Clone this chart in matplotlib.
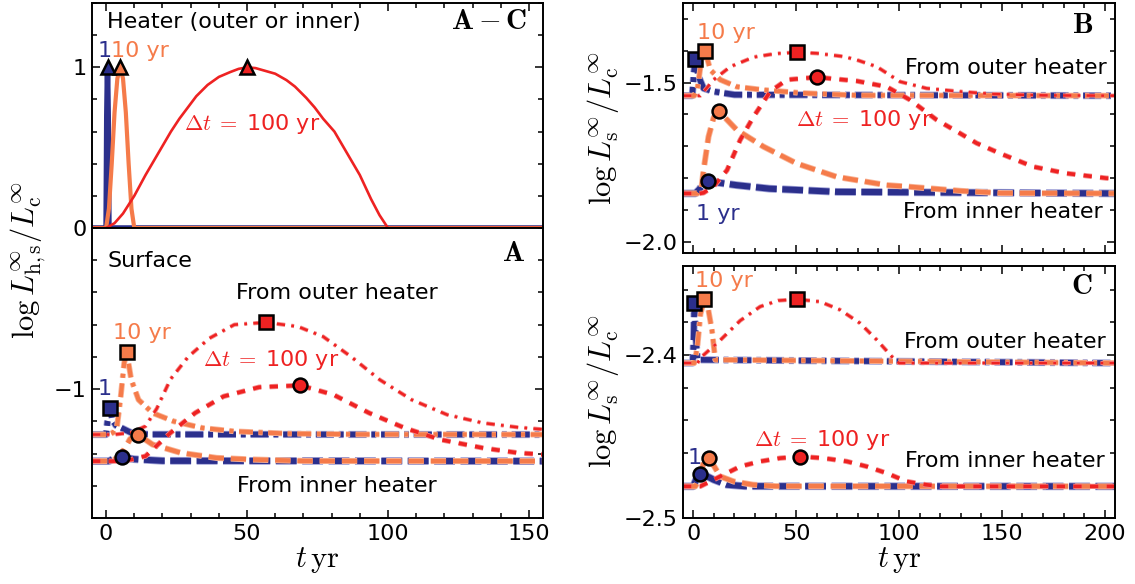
import matplotlib
matplotlib.use('Agg')
import matplotlib.pyplot as plt
import matplotlib.patheffects as pe
from matplotlib.ticker import MultipleLocator, FixedLocator

plt.rcParams['mathtext.fontset'] = 'cm'
plt.rcParams['font.family'] = 'DejaVu Sans'
plt.rcParams['lines.scale_dashes'] = False

NAVY = '#2b2f8c'
ORANGE = '#f57b4a'
RED = '#ee2222'

# ---- panel A, heater luminosity (linear, upper part) ----
heat_t1 = [-5, 0, 0.25, 0.5, 0.75, 1, 155]
heat_v1 = [0, 0, 0.7, 1, 0.7, 0, 0]
heat_t10 = [-5, 0, 1, 2, 3, 4, 5, 6, 7, 8, 9, 10, 155]
heat_v10 = [0, 0, 0.12, 0.4, 0.72, 0.93, 1, 0.93, 0.72, 0.4, 0.12, 0, 0]
heat_t100 = [-5, 0, 3, 6, 10, 14, 19, 23, 26, 29, 32, 36, 40, 44, 47, 50, 53, 56, 60, 64, 67, 71, 74,
             77, 81, 86, 90, 94, 97, 100, 155]
heat_v100 = [0, 0, 0.03, 0.09, 0.2, 0.33, 0.48, 0.6, 0.68, 0.75, 0.82, 0.89, 0.94, 0.97, 0.99, 1, 0.995,
             0.98, 0.96, 0.92, 0.88, 0.81, 0.75, 0.68, 0.6, 0.45, 0.33, 0.18, 0.08, 0, 0]

# ---- panel A, surface (log) ----
a_out_t1 = [-5, 0, 0.5, 1.5, 2.2, 3.5, 5.8, 9.3, 15, 155]
a_out_v1 = [-1.282, -1.282, -1.2, -1.118, -1.19, -1.225, -1.244, -1.274, -1.281, -1.282]
a_out_t10 = [-5, 1, 2.5, 3.9, 5.2, 6.4, 7.3, 8.9, 11.5, 16.5, 24, 34.1, 45.5, 64, 89.5, 155]
a_out_v10 = [-1.282, -1.282, -1.27, -1.23, -1.045, -0.84, -0.767, -0.94, -1.066, -1.148, -1.2,
             -1.241, -1.262, -1.276, -1.281, -1.282]
a_out_t100 = [-5, 3, 9, 14, 18, 22.8, 29.1, 36.6, 45.5, 56.8, 68.1, 77, 87, 97.1, 108.4, 121, 133.6, 146, 155]
a_out_v100 = [-1.282, -1.282, -1.27, -1.23, -1.12, -0.94, -0.80, -0.685, -0.60, -0.586, -0.612,
              -0.674, -0.80, -0.942, -1.066, -1.159, -1.21, -1.237, -1.25]

a_in_t1 = [-5, 1, 3, 5.5, 10, 20, 155]
a_in_v1 = [-1.447, -1.447, -1.43, -1.423, -1.435, -1.445, -1.447]
a_in_t10 = [-5, 2, 3.9, 6.4, 8.5, 11.2, 16.5, 26.6, 39.2, 51.8, 70.7, 155]
a_in_v10 = [-1.447, -1.447, -1.427, -1.375, -1.31, -1.282, -1.344, -1.396, -1.427, -1.437, -1.446, -1.447]
a_in_t100 = [-5, 5, 9, 14, 22.8, 31.6, 41.7, 54.3, 68.9, 80.7, 93.3, 105.9, 118.5, 133.6, 146.2, 155]
a_in_v100 = [-1.447, -1.447, -1.437, -1.416, -1.272, -1.148, -1.045, -0.988, -0.977, -1.035, -1.148,
             -1.241, -1.313, -1.365, -1.396, -1.406]

a_sq_t = [1.5, 7.3, 56.8]
a_sq_v = [-1.118, -0.767, -0.586]
a_ci_t = [5.5, 11.2, 68.9]
a_ci_v = [-1.423, -1.282, -0.977]
heat_pk_t = [0.5, 5, 50]

# ---- panel B ----
b_out_t1 = [-5, -0.5, 0.3, 1, 2.6, 5, 9.9, 20, 205]
b_out_v1 = [-1.541, -1.541, -1.47, -1.426, -1.481, -1.518, -1.528, -1.538, -1.541]
b_out_t10 = [-5, 0.5, 2, 3.5, 5.8, 8.3, 13.1, 21.2, 34.1, 53.4, 80, 205]
b_out_v10 = [-1.541, -1.541, -1.52, -1.45, -1.402, -1.46, -1.491, -1.513, -1.523, -1.533, -1.54, -1.541]
b_out_t100 = [-5, 3.4, 9.9, 18, 29.3, 40, 50.3, 60, 73, 79.6, 89.2, 100.5, 113.4, 129.6, 145.8, 170, 205]
b_out_v100 = [-1.541, -1.541, -1.491, -1.45, -1.42, -1.409, -1.405, -1.408, -1.418, -1.429, -1.45,
              -1.497, -1.518, -1.528, -1.536, -1.540, -1.541]

b_in_t1 = [-5, 1, 3, 5, 7.1, 12, 21, 37, 70, 205]
b_in_v1 = [-1.848, -1.848, -1.835, -1.815, -1.808, -1.814, -1.822, -1.833, -1.843, -1.848]
b_in_t10 = [-5, 2, 4, 5, 7.4, 9.9, 12.3, 21.2, 34.1, 50.3, 69.8, 94, 105, 130, 150, 205]
b_in_v10 = [-1.848, -1.848, -1.83, -1.775, -1.67, -1.61, -1.589, -1.649, -1.701, -1.754, -1.796,
            -1.822, -1.827, -1.84, -1.847, -1.848]
b_in_t100 = [-5, 3, 5, 10, 16.4, 22.8, 29.3, 37.4, 45.5, 60, 79.5, 94, 105.3, 118.3, 129.6, 137.7,
             149, 165.2, 181.4, 200.8, 205]
b_in_v100 = [-1.848, -1.848, -1.846, -1.825, -1.775, -1.68, -1.607, -1.528, -1.491, -1.483, -1.495,
             -1.513, -1.554, -1.617, -1.659, -1.69, -1.722, -1.764, -1.785, -1.8, -1.801]

b_sq_t = [1, 5.8, 50.3]
b_sq_v = [-1.426, -1.402, -1.405]
b_ci_t = [7.1, 12.3, 60]
b_ci_v = [-1.808, -1.589, -1.483]

# ---- panel C ----
c_out_t1 = [-5, -0.3, 0.2, 0.5, 1, 2, 205]
c_out_v1 = [-2.405, -2.405, -2.39, -2.368, -2.385, -2.403, -2.405]
c_out_t10 = [-5, 0.5, 2, 3.5, 5.3, 7, 9.1, 10.7, 205]
c_out_v10 = [-2.405, -2.405, -2.395, -2.375, -2.366, -2.37, -2.385, -2.403, -2.405]
c_out_t100 = [-5, 2, 4.2, 13.1, 22.8, 32.5, 41.3, 50.6, 61.7, 71.4, 81.1, 89.2, 97.2, 100, 205]
c_out_v100 = [-2.405, -2.405, -2.401, -2.391, -2.379, -2.3704, -2.3667, -2.3659, -2.3674, -2.3724,
              -2.3806, -2.3908, -2.402, -2.405, -2.405]

c_in_t1 = [-5, 0, 1.5, 3.4, 6, 9.9, 16.3, 25, 205]
c_in_v1 = [-2.4806, -2.4806, -2.476, -2.4729, -2.474, -2.4765, -2.4796, -2.4805, -2.4806]
c_in_t10 = [-5, 1, 3, 5, 7.4, 10, 13.1, 19.6, 29, 40, 205]
c_in_v10 = [-2.4806, -2.4806, -2.476, -2.466, -2.4633, -2.468, -2.4745, -2.4776, -2.4796, -2.4805, -2.4806]
c_in_t100 = [-5, 3.4, 13.1, 22.8, 32.5, 42.2, 51.9, 63.3, 74.6, 84.3, 94, 103.7, 113, 120, 205]
c_in_v100 = [-2.4806, -2.4806, -2.4745, -2.4684, -2.4653, -2.4633, -2.4623, -2.4633, -2.4653, -2.4684,
             -2.4725, -2.4776, -2.4796, -2.4806, -2.4806]

c_sq_t = [0.5, 5.3, 50.6]
c_sq_v = [-2.3683, -2.3659, -2.3659]
c_ci_t = [3.4, 7.4, 51.9]
c_ci_v = [-2.4729, -2.4633, -2.4623]

colors = [NAVY, ORANGE, RED]
halo = ['#9d9fd6', '#f9b497', '#f58a8a']
w_in = [4.4, 3.2, 2.6]
w_out = [4.0, 3.0, 1.8]
dash_in = [(15, 4), (11, 5), (6, 6)]
dash_out = [(13, 3.5, 3.5, 3.5), (10, 4, 3, 4), (6, 4.5, 2, 4.5)]

fig = plt.figure(figsize=(11.35, 5.84), dpi=100)
W, H = 1135., 584.
axA1 = fig.add_axes([92/W, 1-228/H, 451/W, 225/H])
axA2 = fig.add_axes([92/W, 1-518/H, 451/W, 290/H])
axB = fig.add_axes([683/W, 1-253/H, 432/W, 250/H])
axC = fig.add_axes([683/W, 1-518/H, 432/W, 252/H])


def style(ax, top=True, bottom=True):
    ax.tick_params(which='both', direction='in', top=top, bottom=bottom, right=True, left=True,
                   labelsize=16, pad=4)
    ax.tick_params(which='major', length=6, width=1.1)
    ax.tick_params(which='minor', length=3.5, width=1.1)
    for s in ax.spines.values():
        s.set_linewidth(1.4)


def surface(ax, outs, ins, sq_t, sq_v, ci_t, ci_v):
    for i in range(3):
        ax.plot(outs[i][0], outs[i][1], color=colors[i], lw=w_out[i], dashes=dash_out[i],
                path_effects=[pe.Stroke(linewidth=w_out[i] + 1.2, foreground=halo[i]), pe.Normal()])
    for i in range(3):
        ax.plot(ins[i][0], ins[i][1], color=colors[i], lw=w_in[i], dashes=dash_in[i],
                path_effects=[pe.Stroke(linewidth=w_in[i] + 1.2, foreground=halo[i]), pe.Normal()])
    for i in range(3):
        ax.plot(sq_t[i], sq_v[i], 's', ms=9.5, mfc=colors[i], mec='k', mew=1.8, zorder=5)
        ax.plot(ci_t[i], ci_v[i], 'o', ms=10, mfc=colors[i], mec='k', mew=1.8, zorder=5)


def dt_label(ax, x, y):
    ax.text(x, y, r'$\Delta t\;=\;$100 yr', color=RED, fontsize=16, va='center', ha='center')


# heater part
for i, (t, v) in enumerate([(heat_t1, heat_v1), (heat_t10, heat_v10), (heat_t100, heat_v100)]):
    axA1.plot(t, v, color=colors[i], lw=[4.0, 3.0, 1.9][i], solid_joinstyle='round')
for i in range(3):
    axA1.plot(heat_pk_t[i], 1, '^', ms=10, mfc=colors[i], mec='k', mew=1.8, zorder=5)
axA1.set_xlim(-5, 155)
axA1.set_ylim(0, 1.4)
axA1.set_yticks([0, 1])
axA1.set_yticklabels(['0', '1'])
axA1.yaxis.set_minor_locator(MultipleLocator(0.2))
axA1.xaxis.set_major_locator(MultipleLocator(50))
axA1.xaxis.set_minor_locator(MultipleLocator(10))
axA1.set_xticklabels([])
style(axA1, bottom=False)
axA1.text(0.4, 1.28, 'Heater (outer or inner)', fontsize=16, va='center', ha='left')
axA1.text(149.5, 1.29, r'$\mathbf{A-C}$', fontsize=21, va='center', ha='right')
axA1.text(-0.4, 1.1, '1', color=NAVY, fontsize=16, va='center', ha='center')
axA1.text(1.9, 1.1, '10 yr', color=ORANGE, fontsize=16, va='center', ha='left')
dt_label(axA1, 51.8, 0.65)

# surface part of A
surface(axA2,
        [(a_out_t1, a_out_v1), (a_out_t10, a_out_v10), (a_out_t100, a_out_v100)],
        [(a_in_t1, a_in_v1), (a_in_t10, a_in_v10), (a_in_t100, a_in_v100)],
        a_sq_t, a_sq_v, a_ci_t, a_ci_v)
axA2.set_xlim(-5, 155)
axA2.set_ylim(-1.8, 0)
axA2.yaxis.set_major_locator(FixedLocator([-1]))
axA2.yaxis.set_minor_locator(MultipleLocator(0.2))
axA2.xaxis.set_major_locator(MultipleLocator(50))
axA2.xaxis.set_minor_locator(MultipleLocator(10))
style(axA2, top=False)
axA2.text(148.7, -0.155, r'$\mathbf{A}$', fontsize=21, va='center', ha='right')
axA2.text(0.4, -0.206, 'Surface', fontsize=16, va='center', ha='left')
axA2.text(82, -0.406, 'From outer heater', fontsize=16, va='center', ha='center')
axA2.text(81.7, -1.60, 'From inner heater', fontsize=16, va='center', ha='center')
axA2.text(12.7, -0.65, '10 yr', color=ORANGE, fontsize=16, va='center', ha='center')
dt_label(axA2, 58.7, -0.82)
axA2.text(-0.5, -1.0, '1', color=NAVY, fontsize=16, va='center', ha='center')

# panel B
surface(axB,
        [(b_out_t1, b_out_v1), (b_out_t10, b_out_v10), (b_out_t100, b_out_v100)],
        [(b_in_t1, b_in_v1), (b_in_t10, b_in_v10), (b_in_t100, b_in_v100)],
        b_sq_t, b_sq_v, b_ci_t, b_ci_v)
axB.set_xlim(-5, 205)
axB.set_ylim(-2.035, -1.25)
axB.yaxis.set_major_locator(FixedLocator([-2.0, -1.5]))
axB.yaxis.set_minor_locator(MultipleLocator(0.1))
axB.xaxis.set_major_locator(MultipleLocator(50))
axB.xaxis.set_minor_locator(MultipleLocator(10))
axB.set_xticklabels([])
style(axB)
axB.text(194.2, -1.318, r'$\mathbf{B}$', fontsize=21, va='center', ha='right')
axB.text(200.8, -1.455, 'From outer heater', fontsize=16, va='center', ha='right')
axB.text(199, -1.906, 'From inner heater', fontsize=16, va='center', ha='right')
axB.text(1.8, -1.345, '10 yr', color=ORANGE, fontsize=16, va='center', ha='left')
dt_label(axB, 83, -1.617)
axB.text(1.2, -1.911, '1 yr', color=NAVY, fontsize=16, va='center', ha='left')

# panel C
surface(axC,
        [(c_out_t1, c_out_v1), (c_out_t10, c_out_v10), (c_out_t100, c_out_v100)],
        [(c_in_t1, c_in_v1), (c_in_t10, c_in_v10), (c_in_t100, c_in_v100)],
        c_sq_t, c_sq_v, c_ci_t, c_ci_v)
axC.set_xlim(-5, 205)
axC.set_ylim(-2.5, -2.3455)
axC.yaxis.set_major_locator(FixedLocator([-2.5, -2.4]))
axC.yaxis.set_minor_locator(MultipleLocator(0.02))
axC.xaxis.set_major_locator(MultipleLocator(50))
axC.xaxis.set_minor_locator(MultipleLocator(10))
style(axC)
axC.text(194.2, -2.358, r'$\mathbf{C}$', fontsize=21, va='center', ha='right')
axC.text(200.5, -2.392, 'From outer heater', fontsize=16, va='center', ha='right')
axC.text(200, -2.4653, 'From inner heater', fontsize=16, va='center', ha='right')
axC.text(1, -2.355, '10 yr', color=ORANGE, fontsize=16, va='center', ha='left')
dt_label(axC, 62.5, -2.452)
axC.text(0.5, -2.4633, '1', color=NAVY, fontsize=16, va='center', ha='center')

# axis labels
fig.text(28/W, 1-260/H, r'$\log L^{\infty}_{\rm h,s}/L^{\infty}_{\rm c}$', fontsize=22,
         rotation=90, ha='center', va='center')
fig.text(603/W, 1-128/H, r'$\log L^{\infty}_{\rm s}/L^{\infty}_{\rm c}$', fontsize=22,
         rotation=90, ha='center', va='center')
fig.text(603/W, 1-391/H, r'$\log L^{\infty}_{\rm s}/L^{\infty}_{\rm c}$', fontsize=22,
         rotation=90, ha='center', va='center')
fig.text(317/W, 1-560/H, r'$t\,\mathrm{yr}$', fontsize=22, ha='center', va='center')
fig.text(899/W, 1-560/H, r'$t\,\mathrm{yr}$', fontsize=22, ha='center', va='center')

fig.savefig('out.png', dpi=100)
